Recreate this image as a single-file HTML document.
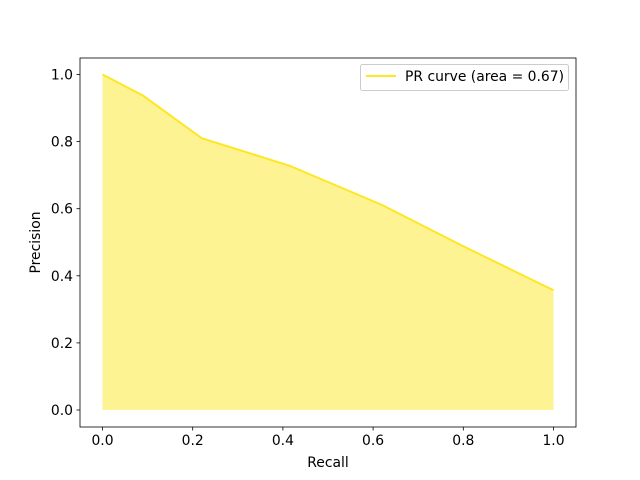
<!DOCTYPE html>
<html><head><meta charset="utf-8"><style>
body{margin:0;background:#fff}
svg{display:block;font-family:"DejaVu Sans","Liberation Sans",sans-serif}
</style></head><body>
<svg id="chart" width="640" height="480"></svg>
<script>
const recall=[0,0.09,0.22,0.415,0.62,0.8,1.0];
const precision=[1.0,0.937,0.81,0.728,0.611,0.488,0.357];
const xTicks=[0,0.2,0.4,0.6,0.8,1.0];
const yTicks=[0,0.2,0.4,0.6,0.8,1.0];
const xTickLabels=["0.0","0.2","0.4","0.6","0.8","1.0"];
const yTickLabels=["0.0","0.2","0.4","0.6","0.8","1.0"];
const legendLabel="PR curve (area = 0.67)";

const NS="http://www.w3.org/2000/svg";
const svg=document.getElementById('chart');
const L=80,R=576,T=58,B=427;
const FS=13.9;
function sx(v){return 102.5+v*451;}
function sy(v){return 410-v*335.5;}
function mk(tag,attrs,parent){const e=document.createElementNS(NS,tag);for(const k in attrs)e.setAttribute(k,attrs[k]);(parent||svg).appendChild(e);return e;}

let fillPts=recall.map((r,i)=>sx(r)+','+sy(precision[i])).join(' ');
fillPts+=' '+sx(recall[recall.length-1])+','+sy(0)+' '+sx(recall[0])+','+sy(0);
const area=mk('polygon',{points:fillPts,fill:'#fde725','fill-opacity':'0.5',stroke:'none'});


const line=mk('polyline',{points:recall.map((r,i)=>sx(r)+','+sy(precision[i])).join(' '),fill:'none',stroke:'#fde725','stroke-width':2});



const frame=mk('rect',{x:L,y:T,width:R-L,height:B-T,fill:'none',stroke:'#000','stroke-width':0.8});



xTicks.forEach((v,i)=>{
  const x=sx(v);
  const t=mk('line',{x1:x,x2:x,y1:B,y2:B+3.5,stroke:'#000','stroke-width':0.8});
  
  
  const tx=mk('text',{x:x,y:B+18,'font-size':FS,'text-anchor':'middle'});
  tx.textContent=xTickLabels[i];
  
  
});
yTicks.forEach((v,i)=>{
  const y=sy(v);
  const t=mk('line',{x1:L-3.5,x2:L,y1:y,y2:y,stroke:'#000','stroke-width':0.8});
  
  
  const tx=mk('text',{x:L-7,y:y+5,'font-size':FS,'text-anchor':'end'});
  tx.textContent=yTickLabels[i];
  
  
});
const xt=mk('text',{x:(L+R)/2,y:467,'font-size':FS,'text-anchor':'middle'});
xt.textContent='Recall';


const yt=mk('text',{x:0,y:0,'font-size':FS,'text-anchor':'middle',transform:'translate(40,242.5) rotate(-90)'});
yt.textContent='Precision';



const lg=mk('g',{});


mk('rect',{x:360.5,y:64.5,width:208,height:26,rx:2,fill:'#fff','fill-opacity':0.8,stroke:'#ccc'},lg);
mk('line',{x1:366,x2:396,y1:76,y2:76,stroke:'#fde725','stroke-width':2},lg);
const lt=mk('text',{x:405,y:81,'font-size':FS},lg);
lt.textContent=legendLabel;


</script>
</body></html>
